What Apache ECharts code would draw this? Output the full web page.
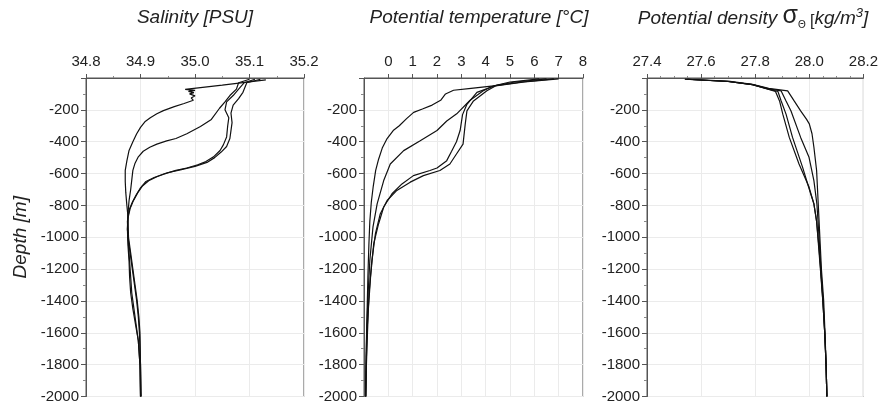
<!DOCTYPE html>
<html>
<head>
<meta charset="utf-8">
<script src="https://cdn.jsdelivr.net/npm/echarts@6/dist/echarts.min.js"></script>
<style>
  html, body { margin: 0; padding: 0; background: #fff; }
  #chart { width: 881px; height: 404px; }
</style>
</head>
<body>
<div id="chart"></div>
<script>
// profiles: [value, depth]
var salA = [[35.13, -12], [35.05, -45], [34.982, -72], [35.0, -78], [34.988, -84], [34.998, -92], [34.99, -100], [35.0, -112], [34.993, -125], [34.997, -140],
  [34.98, -160], [34.962, -180], [34.942, -205], [34.93, -225], [34.918, -250], [34.908, -275], [34.9, -310], [34.893, -350], [34.886, -400],
  [34.879, -455], [34.875, -520], [34.872, -580], [34.872, -650], [34.873, -720], [34.875, -800], [34.877, -870], [34.876, -950],
  [34.878, -1050], [34.88, -1150], [34.882, -1250], [34.884, -1350], [34.888, -1450], [34.892, -1550], [34.896, -1650], [34.899, -1800], [34.9, -2000]];
var salB = [[35.1, -8], [35.08, -30], [35.076, -70], [35.064, -110], [35.055, -150], [35.045, -190], [35.03, -260], [35.01, -305], [34.985, -350],
  [34.965, -380], [34.948, -395], [34.93, -415], [34.917, -435], [34.905, -460], [34.896, -495], [34.89, -535], [34.886, -580], [34.884, -640],
  [34.882, -700], [34.879, -770], [34.877, -850], [34.876, -950], [34.877, -1050], [34.879, -1150], [34.88, -1250], [34.882, -1350],
  [34.886, -1450], [34.891, -1550], [34.896, -1650], [34.899, -1800], [34.9, -2000]];
var salC = [[35.11, -8], [35.09, -30], [35.08, -70], [35.07, -110], [35.058, -150], [35.055, -200], [35.062, -250], [35.06, -300], [35.058, -370],
  [35.052, -420], [35.046, -455], [35.034, -495], [35.02, -525], [35.005, -545], [34.985, -565], [34.965, -580], [34.945, -600], [34.925, -625],
  [34.91, -650], [34.9, -690], [34.892, -735], [34.885, -780], [34.879, -830], [34.876, -900], [34.877, -1000], [34.881, -1100], [34.885, -1200],
  [34.889, -1300], [34.893, -1400], [34.896, -1500], [34.898, -1600], [34.9, -1800], [34.901, -2000]];
var salD = [[35.12, -8], [35.095, -30], [35.088, -90], [35.08, -130], [35.07, -170], [35.066, -220], [35.068, -280], [35.066, -330], [35.064, -380],
  [35.058, -430], [35.048, -465], [35.036, -500], [35.022, -530], [35.0, -555], [34.975, -575], [34.95, -595], [34.93, -620], [34.915, -645],
  [34.903, -680], [34.895, -720], [34.887, -770], [34.881, -820], [34.877, -880], [34.878, -1000], [34.882, -1100], [34.886, -1200],
  [34.89, -1300], [34.894, -1400], [34.897, -1500], [34.899, -1600], [34.9, -1800], [34.901, -2000]];

var tmpA = [[6.8, -5], [5.5, -25], [4.33, -50], [3.4, -65], [2.68, -77], [2.35, -100], [2.15, -140], [1.8, -170], [1.4, -195], [1.04, -216],
  [0.75, -255], [0.45, -300], [0.2, -330], [-0.05, -380], [-0.25, -440], [-0.4, -510], [-0.52, -580], [-0.62, -680], [-0.7, -780],
  [-0.76, -900], [-0.8, -1050], [-0.84, -1250], [-0.87, -1450], [-0.9, -1650], [-0.92, -1850], [-0.93, -2000]];
var tmpB = [[6.2, -5], [5.0, -25], [4.3, -50], [3.9, -80], [3.36, -140], [2.81, -225], [2.4, -270], [2.0, -330], [1.31, -394], [0.63, -456],
  [0.08, -540], [-0.19, -644], [-0.46, -790], [-0.63, -935], [-0.76, -1144], [-0.83, -1350], [-0.88, -1550], [-0.91, -1750], [-0.93, -2000]];
var tmpC = [[6.5, -5], [5.2, -25], [4.35, -50], [3.64, -90], [3.23, -165], [3.05, -230], [2.95, -330], [2.8, -400], [2.6, -460], [2.4, -519],
  [2.0, -565], [1.71, -581], [1.03, -613], [0.56, -665], [0.15, -727], [-0.19, -810], [-0.4, -915], [-0.6, -1040], [-0.73, -1248],
  [-0.82, -1450], [-0.87, -1650], [-0.91, -1850], [-0.93, -2000]];
var tmpD = [[7.0, -5], [5.6, -25], [4.4, -50], [4.05, -80], [3.5, -144], [3.23, -206], [3.16, -290], [3.07, -415], [2.8, -477], [2.53, -540],
  [2.12, -581], [1.44, -613], [0.9, -654], [0.35, -706], [-0.05, -769], [-0.33, -852], [-0.53, -977], [-0.68, -1150], [-0.79, -1350],
  [-0.86, -1550], [-0.9, -1750], [-0.93, -2000]];

var denA = [[27.54, -8], [27.7, -20], [27.79, -40], [27.85, -65], [27.92, -81], [27.944, -144], [27.968, -206], [27.99, -260], [28.0, -288],
  [28.01, -350], [28.017, -435], [28.027, -581], [28.033, -790], [28.039, -998], [28.045, -1206], [28.053, -1394], [28.058, -1600],
  [28.062, -1800], [28.065, -2000]];
var denB = [[27.55, -8], [27.7, -22], [27.79, -42], [27.85, -68], [27.896, -81], [27.914, -144], [27.932, -206], [27.968, -373], [27.999, -498],
  [28.017, -644], [28.028, -790], [28.036, -998], [28.043, -1206], [28.051, -1400], [28.057, -1600], [28.062, -1800], [28.065, -2000]];
var denC = [[27.54, -8], [27.7, -22], [27.79, -42], [27.85, -70], [27.884, -85], [27.896, -144], [27.914, -227], [27.938, -373], [27.975, -560],
  [28.005, -727], [28.017, -790], [28.027, -900], [28.035, -1050], [28.042, -1200], [28.05, -1400], [28.057, -1600], [28.062, -1800], [28.065, -2000]];
var denD = [[27.55, -8], [27.7, -22], [27.79, -42], [27.85, -72], [27.875, -85], [27.89, -144], [27.902, -227], [27.926, -373], [27.962, -540],
  [27.999, -685], [28.017, -790], [28.027, -900], [28.034, -1050], [28.041, -1200], [28.05, -1400], [28.057, -1600], [28.062, -1800], [28.065, -2000]];

var salRange = [34.8, 35.2, 0.1];
var tmpRange = [-1, 8, 1];
var denRange = [27.4, 28.2, 0.2];
var depthRange = [-2000, 0, 200];

var chart = echarts.init(document.getElementById('chart'));
var FONT = '"Liberation Sans", Arial, sans-serif';
var axisColor = '#555';

function xAx(idx, r, minorN, digits) {
  return {
    type: 'value', gridIndex: idx, position: 'top',
    min: r[0], max: r[1], interval: r[2],
    axisLine: { show: true, onZero: false, lineStyle: { color: axisColor } },
    axisTick: { show: true, length: 4, lineStyle: { color: axisColor } },
    minorTick: { show: minorN > 0, splitNumber: minorN || 5, length: 2, lineStyle: { color: '#888' } },
    splitLine: { show: true, lineStyle: { color: '#ebebeb' } },
    axisLabel: {
      show: true, margin: 9, color: '#222', fontSize: 15, fontFamily: FONT,
      showMinLabel: r[0] >= 0, showMaxLabel: true,
      formatter: function (v) { return digits ? v.toFixed(digits) : String(Math.round(v)); }
    }
  };
}

function yAx(idx, withName) {
  var a = {
    type: 'value', gridIndex: idx,
    min: depthRange[0], max: depthRange[1], interval: depthRange[2],
    axisLine: { show: true, onZero: false, lineStyle: { color: axisColor } },
    axisTick: { show: true, length: 5, lineStyle: { color: axisColor } },
    minorTick: { show: true, splitNumber: 2, length: 3, lineStyle: { color: '#888' } },
    splitLine: { show: true, lineStyle: { color: '#ebebeb' } },
    axisLabel: { margin: 7, color: '#222', fontSize: 15, fontFamily: FONT, showMaxLabel: false,
      formatter: function (v) { return String(Math.round(v)); } }
  };
  if (withName) {
    a.name = 'Depth [m]';
    a.nameLocation = 'middle';
    a.nameRotate = 90;
    a.nameGap = 56;
    a.nameTextStyle = { fontSize: 19, fontStyle: 'italic', color: '#222', fontFamily: FONT };
  }
  return a;
}

function prof(data, idx) {
  return {
    type: 'line', xAxisIndex: idx, yAxisIndex: idx, data: data,
    showSymbol: false, symbol: 'none', smooth: false, silent: true,
    lineStyle: { color: '#111', width: 1.2 }
  };
}

var gridBase = { top: 78, height: 319, show: true, borderColor: axisColor, borderWidth: 1, backgroundColor: '#fff' };

chart.setOption({
  animation: false,
  backgroundColor: '#fff',
  grid: [
    Object.assign({ left: 86, width: 218 }, gridBase),
    Object.assign({ left: 364, width: 219 }, gridBase),
    Object.assign({ left: 647, width: 218 }, gridBase)
  ],
  xAxis: [xAx(0, salRange, 2, 1), xAx(1, tmpRange, 0, 0), xAx(2, denRange, 4, 1)],
  yAxis: [yAx(0, true), yAx(1, false), yAx(2, false)],
  series: [
    prof(salA, 0), prof(salB, 0), prof(salC, 0), prof(salD, 0),
    prof(tmpA, 1), prof(tmpB, 1), prof(tmpC, 1), prof(tmpD, 1),
    prof(denA, 2), prof(denB, 2), prof(denC, 2), prof(denD, 2)
  ],
  graphic: [
    { type: 'text', x: 195, y: 8, style: { text: 'Salinity [PSU]', align: 'center', verticalAlign: 'top',
      font: 'italic 19px ' + FONT, fill: '#222' } },
    { type: 'text', x: 479, y: 8, style: { text: 'Potential temperature [°C]', align: 'center', verticalAlign: 'top',
      font: 'italic 19px ' + FONT, fill: '#222' } },
    { type: 'text', x: 753, y: 4, style: {
      text: '{a|Potential density }{s|σ}{t|Θ}{b| [}{a|kg/m}{u|3}{a|]}',
      align: 'center', verticalAlign: 'top', fill: '#222',
      rich: {
        a: { fontSize: 19, fontStyle: 'italic', fontFamily: FONT, fill: '#222', verticalAlign: 'bottom', padding: [0, 0, 2, 0] },
        s: { fontSize: 25, fontFamily: FONT, fill: '#222', verticalAlign: 'bottom', padding: [0, 0, 1, 0] },
        t: { fontSize: 10, fontFamily: FONT, fill: '#222', verticalAlign: 'bottom' },
        b: { fontSize: 16, fontFamily: FONT, fill: '#222', verticalAlign: 'bottom', padding: [0, 0, 0, 0] },
        u: { fontSize: 13, fontStyle: 'italic', fontFamily: FONT, fill: '#222', verticalAlign: 'top', padding: [3, 0, 0, 0] }
      }
    } }
  ]
});
</script>
</body>
</html>
